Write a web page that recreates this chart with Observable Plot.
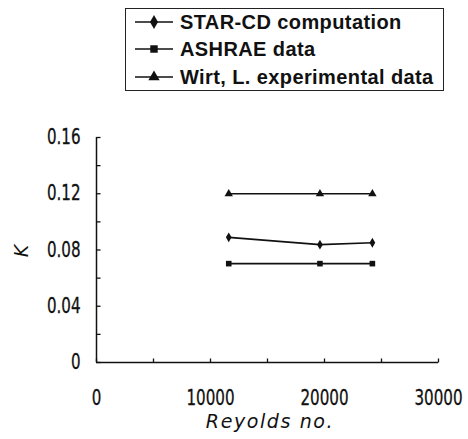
<!DOCTYPE html>
<html>
<head>
<meta charset="utf-8">
<script src="https://cdn.jsdelivr.net/npm/d3@7"></script>
<script src="https://cdn.jsdelivr.net/npm/@observablehq/plot@0.6"></script>
<style>
  html, body { margin: 0; padding: 0; background: #fff; }
  #wrap { position: relative; width: 468px; height: 439px; overflow: hidden; }
  #legend { position: absolute; left: 125px; top: 8px; width: 317px; height: 81px;
            border: 1.5px solid #222; background: #fff; box-sizing: content-box; }
  .row { position: absolute; left: 0; height: 26px; display: flex; align-items: center; }
  .row span { font-family: "Liberation Sans", Arial, sans-serif; font-weight: bold;
              font-size: 20px; letter-spacing: 0.4px; color: #111; margin-left: 6px; white-space: nowrap; }
  .xlabel { position: absolute; left: 0; width: 468px; top: 410px; text-align: center; padding-left: 72px; box-sizing: border-box;
            font-family: "DejaVu Sans", sans-serif; font-style: italic; font-size: 19px; letter-spacing: 1.6px; color: #111; }
  .ylabel { position: absolute; left: 11px; top: 241px; width: 20px; height: 20px; transform: rotate(-90deg);
            font-family: "DejaVu Sans", sans-serif; font-style: italic; font-size: 19px; color: #111; text-align: center; line-height: 20px; }
</style>
</head>
<body>
<div id="wrap"></div>
<script>
// ---- data ----
const reynolds = [11600, 19600, 24200];
const starcd = [0.0890, 0.0838, 0.0852];
const ashrae = [0.0703, 0.0703, 0.0703];
const wirt = [0.120, 0.120, 0.120];
const seriesNames = ["STAR-CD computation", "ASHRAE data", "Wirt, L. experimental data"];
const seriesSymbols = ["diamond", "square", "triangle"];
const xTicks = [0, 10000, 20000, 30000];
const xMinorTicks = [0, 5000, 10000, 15000, 20000, 25000, 30000];
const yTicks = [0, 0.04, 0.08, 0.12, 0.16];
const yMinorTicks = [0, 0.02, 0.04, 0.06, 0.08, 0.10, 0.12, 0.14, 0.16];
const xTitle = "Reyolds no.";
const yTitle = "K";

const seriesValues = [starcd, ashrae, wirt];
const rows = [];
seriesNames.forEach((name, i) => {
  reynolds.forEach((x, j) => rows.push({series: name, symbol: seriesSymbols[i], re: x, k: seriesValues[i][j]}));
});

const ink = "#111";
const tickUp = { draw(ctx) { ctx.moveTo(0, 0); ctx.lineTo(0, -4); } };
const tickRight = { draw(ctx) { ctx.moveTo(0, 0); ctx.lineTo(4, 0); } };
const symR = {diamond: 5.4, square: 6.0, triangle: 5.8};
const tickFont = "'DejaVu Sans Condensed', 'Liberation Sans', sans-serif";

const plot = Plot.plot({
  width: 468,
  height: 439,
  marginLeft: 96,
  marginRight: 30,
  marginTop: 137,
  marginBottom: 77,
  style: { background: "#fff", color: ink },
  x: { domain: [0, 30000], axis: null },
  y: { domain: [0, 0.16], axis: null },
  marks: [
    Plot.ruleX([0], { stroke: ink, strokeWidth: 1.5 }),
    Plot.ruleY([0], { stroke: ink, strokeWidth: 1.5 }),
    Plot.dot(xMinorTicks, { x: d => d, y: 0, symbol: tickUp, stroke: ink, strokeWidth: 1.3, fill: "none" }),
    Plot.dot(yMinorTicks, { x: 0, y: d => d, symbol: tickRight, stroke: ink, strokeWidth: 1.3, fill: "none" }),
    Plot.text(xTicks, { x: d => d, y: 0, text: d => String(d), dy: 36, fontSize: 21, fill: ink, fontFamily: tickFont,
      className: "ticklab" }),
    Plot.text(yTicks, { x: 0, y: d => d, text: d => d === 0 ? "0" : d.toFixed(2), dx: -16, textAnchor: "end", fontSize: 21, fill: ink,
      fontFamily: tickFont, className: "ticklab" }),
    Plot.line(rows, { x: "re", y: "k", z: "series", stroke: ink, strokeWidth: 1.6 }),
    Plot.dot(rows, { x: "re", y: "k", symbol: "symbol", r: d => symR[d.symbol], fill: ink, stroke: "none" })
  ]
});

const wrap = document.getElementById("wrap");
wrap.appendChild(plot);

// condense the tick labels like the original narrow font
d3.select(plot).selectAll(".ticklab text").each(function () {
  const w = this.getComputedTextLength();
  this.setAttribute("textLength", (w * 0.8).toFixed(1));
  this.setAttribute("lengthAdjust", "spacingAndGlyphs");
  this.setAttribute("stroke", ink);
  this.setAttribute("stroke-width", "0.3");
});

// legend
const legend = document.createElement("div");
legend.id = "legend";
const rowTops = [0, 27, 55];
seriesNames.forEach((name, i) => {
  const row = document.createElement("div");
  row.className = "row";
  row.style.top = rowTops[i] + "px";
  const svg = d3.create("svg").attr("width", 48).attr("height", 26);
  svg.append("line").attr("x1", 9).attr("x2", 47).attr("y1", 13).attr("y2", 13).attr("stroke", ink).attr("stroke-width", 1.6);
  const symType = {diamond: d3.symbolDiamond, square: d3.symbolSquare, triangle: d3.symbolTriangle}[seriesSymbols[i]];
  svg.append("path").attr("transform", "translate(28,13)").attr("d", d3.symbol(symType, Math.PI * 4.2 * 4.2)()).attr("fill", ink);
  row.appendChild(svg.node());
  const span = document.createElement("span");
  span.textContent = name;
  row.appendChild(span);
  legend.appendChild(row);
});
wrap.appendChild(legend);

const xl = document.createElement("div");
xl.className = "xlabel";
xl.textContent = xTitle;
wrap.appendChild(xl);
const yl = document.createElement("div");
yl.className = "ylabel";
yl.textContent = yTitle;
wrap.appendChild(yl);
</script>
</body>
</html>
